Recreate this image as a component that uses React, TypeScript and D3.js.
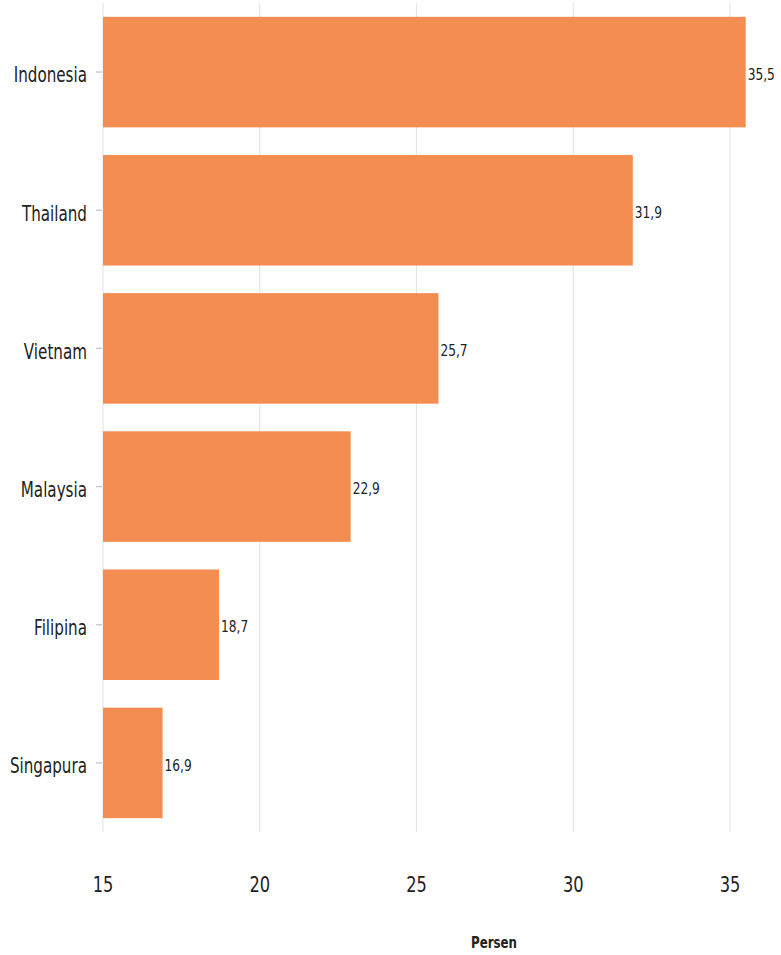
import React from "react";
import * as d3 from "d3";

const categories = ["Indonesia", "Thailand", "Vietnam", "Malaysia", "Filipina", "Singapura"];
const values = [35.5, 31.9, 25.7, 22.9, 18.7, 16.9];
const xTicks = [15, 20, 25, 30, 35];
const xTitle = "Persen";

const W = 781;
const H = 955;
const FONT = "'DejaVu Sans', Verdana, sans-serif";
const SX = 0.74;

function CText({ x, y, anchor, size, weight, fill, children }: any) {
  return (
    <g transform={`translate(${x},${y}) scale(${SX},1)`}>
      <text textAnchor={anchor} fontSize={size} fontWeight={weight || "normal"} fill={fill || "#222"} fontFamily={FONT} dominantBaseline="central">
        {children}
      </text>
    </g>
  );
}

export default function App() {
  const x = d3.scaleLinear().domain([15, 35]).range([103, 730]);
  const y = d3.scaleBand().domain(categories).range([3, 832]).paddingInner(0.2).paddingOuter(0.1);
  const fmt = (v: number) => v.toFixed(1).replace(".", ",");
  return (
    <svg width={W} height={H} style={{ position: "absolute", left: 0, top: 0 }}>
      <rect width={W} height={H} fill="#fff" />
      {xTicks.map((t) => (
        <line key={t} x1={x(t)} x2={x(t)} y1={3} y2={832} stroke="#e6e6e6" strokeWidth={1.2} />
      ))}
      {categories.map((c) => (
        <line key={"tk" + c} x1={96} x2={102} y1={y(c)! + y.bandwidth() / 2} y2={y(c)! + y.bandwidth() / 2} stroke="#ccc" strokeWidth={1.5} />
      ))}
      {categories.map((c, i) => (
        <rect key={c} x={x(15)} y={y(c)!} width={x(values[i]) - x(15)} height={y.bandwidth()} fill="#F38D52" />
      ))}
      {categories.map((c, i) => (
        <CText key={"v" + c} x={x(values[i]) + 2} y={y(c)! + y.bandwidth() / 2 + 2} anchor="start" size={16.5}>
          {fmt(values[i])}
        </CText>
      ))}
      {categories.map((c) => (
        <CText key={"l" + c} x={87} y={y(c)! + y.bandwidth() / 2 + 3} anchor="end" size={20.5}>
          {c}
        </CText>
      ))}
      {xTicks.map((t) => (
        <CText key={"x" + t} x={x(t)} y={885} anchor="middle" size={22}>
          {t}
        </CText>
      ))}
      <CText x={494} y={942} anchor="middle" size={16} weight="bold">
        {xTitle}
      </CText>
    </svg>
  );
}
